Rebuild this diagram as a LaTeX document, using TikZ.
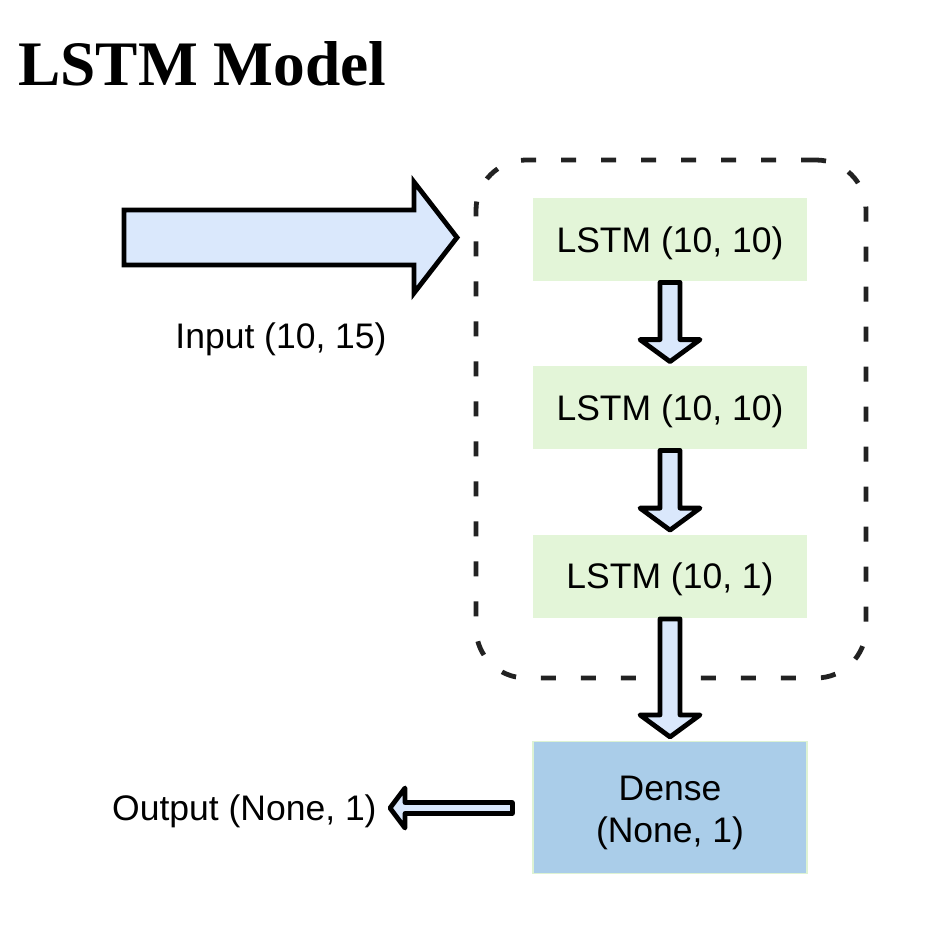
\documentclass[tikz,border=0pt]{standalone}
\usepackage{fontspec}
\setmainfont{Liberation Sans}
\newfontfamily\titlefont{Liberation Serif}
\usetikzlibrary{calc,positioning}
\definecolor{arrowblue}{HTML}{DAE8FC}
\definecolor{lstmgreen}{HTML}{E3F5D8}
\definecolor{densefill}{HTML}{AACDE9}
\definecolor{denseedge}{HTML}{DDF2D3}
\definecolor{ink}{HTML}{222222}
\tikzset{
  layer/.style={fill=#1,minimum width=137pt,minimum height=41.5pt,align=center,
    font=\fontsize{17.75}{21}\selectfont,inner sep=0pt,text height=16pt,text depth=3.3pt},
  layer/.default=lstmgreen,
  fat/.style={draw=black,fill=arrowblue,line width=2.4pt,line join=round},
  tag/.style={font=\fontsize{17.75}{21}\selectfont,inner sep=0pt,text height=16pt,text depth=3.3pt},
  group/.style={draw=ink,line width=2.4pt,dash pattern=on 7.5pt off 12.5pt,
    rounded corners=25pt,minimum width=195pt,minimum height=259pt,inner sep=0pt},
}
% block arrow pointing down, from the south of #1 to the north of #2
\newcommand\fatdown[2]{%
  \draw[fat] let \p1=(#1.south), \p2=(#2.north) in
    (\x1-5pt,\y1-0.5pt) -- (\x1+5pt,\y1-0.5pt) -- (\x1+5pt,\y2+13pt)
    -- (\x1+15pt,\y2+13pt) -- (\x1,\y2+2pt) -- (\x1-15pt,\y2+13pt)
    -- (\x1-5pt,\y2+13pt) -- cycle;}

\begin{document}
\begin{tikzpicture}[x=0.5pt,y=-0.5pt]
  \path[use as bounding box,fill=white] (0,0) rectangle (946,938);
  \node[anchor=base west,inner sep=0pt,font=\titlefont\bfseries\fontsize{31.7}{36}\selectfont] (title) at (18,85) {LSTM Model};

  % recurrent part
  \node[group] (grp) at (671,419) {};
  \node[layer] (l1) at (670,239.5) {LSTM (10, 10)};
  \node[layer] (l2) at (670,407.5) {LSTM (10, 10)};
  \node[layer] (l3) at (670,576) {LSTM (10, 1)};
  \node[layer=densefill,draw=denseedge,line width=0.6pt,minimum height=66pt,text height=38pt] (dense) at (670,807.5) {Dense\\(None, 1)};

  \fatdown{l1}{l2}
  \fatdown{l2}{l3}
  \fatdown{l3}{dense}

  % input
  \coordinate (inStart) at (124,237.5);
  \coordinate (inTip) at (457,237.5);
  \node[tag] (inLbl) at (281,336) {Input (10, 15)};
  \draw[fat,line join=miter] let \p1=(inStart), \p2=(inTip) in
    (\x1,\y1+13.75pt) -- (\x2-21.5pt,\y1+13.75pt) -- (\x2-21.5pt,\y1+27.75pt)
    -- (\x2,\y2) -- (\x2-21.5pt,\y1-27.75pt) -- (\x2-21.5pt,\y1-13.75pt)
    -- (\x1,\y1-13.75pt) -- cycle;

  % output
  \node[tag,anchor=east] (outLbl) at (377,808) {Output (None, 1)};
  \draw[fat] let \p1=(dense.west), \p2=(outLbl.east) in
    (\x1-10pt,\y2+2.75pt) -- (\x2+14pt,\y2+2.75pt) -- (\x2+14pt,\y2+10pt)
    -- (\x2+6.5pt,\y2) -- (\x2+14pt,\y2-10pt) -- (\x2+14pt,\y2-2.75pt)
    -- (\x1-10pt,\y2-2.75pt) -- cycle;
\end{tikzpicture}
\end{document}
